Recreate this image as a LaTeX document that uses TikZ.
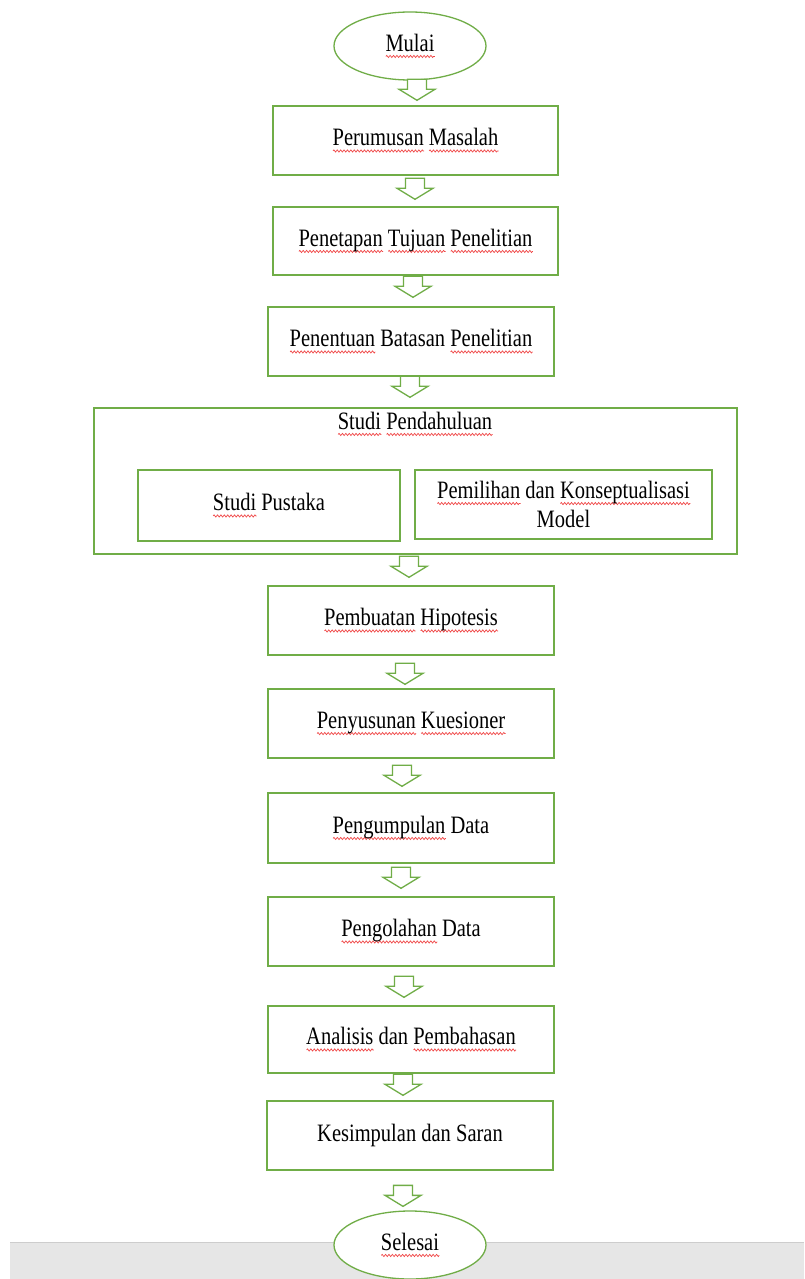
\documentclass[tikz,border=0pt]{standalone}
\usepackage{fontspec}
\setmainfont{Liberation Serif}[FakeStretch=0.82]
\usetikzlibrary{calc,shapes.geometric,decorations.pathmorphing}

\definecolor{boxgreen}{HTML}{70AD47}
\definecolor{spellred}{HTML}{F04848}
\definecolor{bargray}{HTML}{E6E6E6}
\definecolor{barline}{HTML}{CDCDCD}

% red wavy underline under a single word
\newsavebox\sqbox
\newlength\sqlen
\newcommand\sq[1]{\sbox\sqbox{#1}\setlength\sqlen{\wd\sqbox}\leavevmode
  \rlap{\tikz[baseline=0pt]\draw[spellred,line width=0.7pt,decorate,
    decoration={zigzag,amplitude=1.1pt,segment length=3.4pt}]
    (0pt,-5pt) -- (\sqlen,-5pt);}\usebox\sqbox}

\tikzset{
  every node/.style={font=\fontsize{25}{29}\selectfont, text=black},
  stepbox/.style={draw=boxgreen, line width=1.4pt, fill=white, rectangle,
    minimum width=286pt, minimum height=69pt, inner sep=0pt},
  terminal/.style={draw=boxgreen, line width=1.3pt, fill=white, ellipse,
    minimum width=152pt, minimum height=68pt, inner sep=0pt},
  label/.style={inner sep=0pt},
  pics/blockarrow/.style={code={
    \draw[boxgreen, line width=1.3pt, fill=white, line join=miter]
      (0,0) -- (-18,-11) -- (-9.5,-11) -- (-9.5,-21) -- (9.5,-21)
      -- (9.5,-11) -- (18,-11) -- cycle;}}
}

\begin{document}
\begin{tikzpicture}[x=1pt,y=-1pt]
\useasboundingbox (0,0) rectangle (804,1279);
\fill[white] (0,0) rectangle (804,1279);

% grey strip along the bottom edge
\fill[bargray] (10,1242) rectangle (804,1279);
\draw[barline, line width=1pt] (10,1242) -- (804,1242);

% start and end
\node[terminal] (start) at (410,46) {\sq{Mulai}};
\node[terminal] (stop) at (410,1245) {\sq{Selesai}};

% process steps
\node[stepbox, minimum width=285pt] (rumus) at (415.5,140.5) {\sq{Perumusan} \sq{Masalah}};
\node[stepbox, minimum width=285pt, minimum height=68pt] (tujuan) at (415.5,241) {\sq{Penetapan} \sq{Tujuan} \sq{Penelitian}};
\node[stepbox] (batas) at (411,341.5) {\sq{Penentuan} Batasan \sq{Penelitian}};

% preliminary study group
\node[stepbox, minimum width=643pt, minimum height=146pt] (studi) at (415.5,481) {};
\node[label] (studititle) at (415,424) {\sq{Studi} \sq{Pendahuluan}};
\node[stepbox, minimum width=262pt, minimum height=71pt] (pustaka) at (269,505.5) {\sq{Studi} Pustaka};
\node[stepbox, minimum width=297pt, minimum height=69pt, align=center] (model) at (563.5,504.5)
  {\sq{Pemilihan} dan \sq{Konseptualisasi}\\Model};

\node[stepbox] (hipo) at (411,620.5) {\sq{Pembuatan} \sq{Hipotesis}};
\node[stepbox] (kues) at (411,723.5) {\sq{Penyusunan} \sq{Kuesioner}};
\node[stepbox, minimum height=70pt] (kumpul) at (411,828) {\sq{Pengumpulan} Data};
\node[stepbox] (olah) at (411,931.5) {\sq{Pengolahan} Data};
\node[stepbox, minimum height=67pt] (analisis) at (411,1039.5) {\sq{Analisis} dan \sq{Pembahasan}};
\node[stepbox] (simpul) at (410,1135.5) {Kesimpulan dan Saran};

% block arrows between consecutive steps (tip just above the next node)
\pic at ($(rumus.north)+(1.5,-5)$) {blockarrow};
\pic at ($(tujuan.north)+(-0.5,-7)$) {blockarrow};
\pic at ($(batas.north)+(2,-9)$) {blockarrow};
\pic at ($(studi.north)+(-5.5,-10)$) {blockarrow};
\pic at ($(hipo.north)+(-2,-8)$) {blockarrow};
\pic at ($(kues.north)+(-6,-4)$) {blockarrow};
\pic at ($(kumpul.north)+(-9,-6)$) {blockarrow};
\pic at ($(olah.north)+(-10,-8)$) {blockarrow};
\pic at ($(analisis.north)+(-7,-8)$) {blockarrow};
\pic at ($(simpul.north)+(-7,-5)$) {blockarrow};
\pic at ($(stop.north)+(-7,-4)$) {blockarrow};
\end{tikzpicture}
\end{document}
